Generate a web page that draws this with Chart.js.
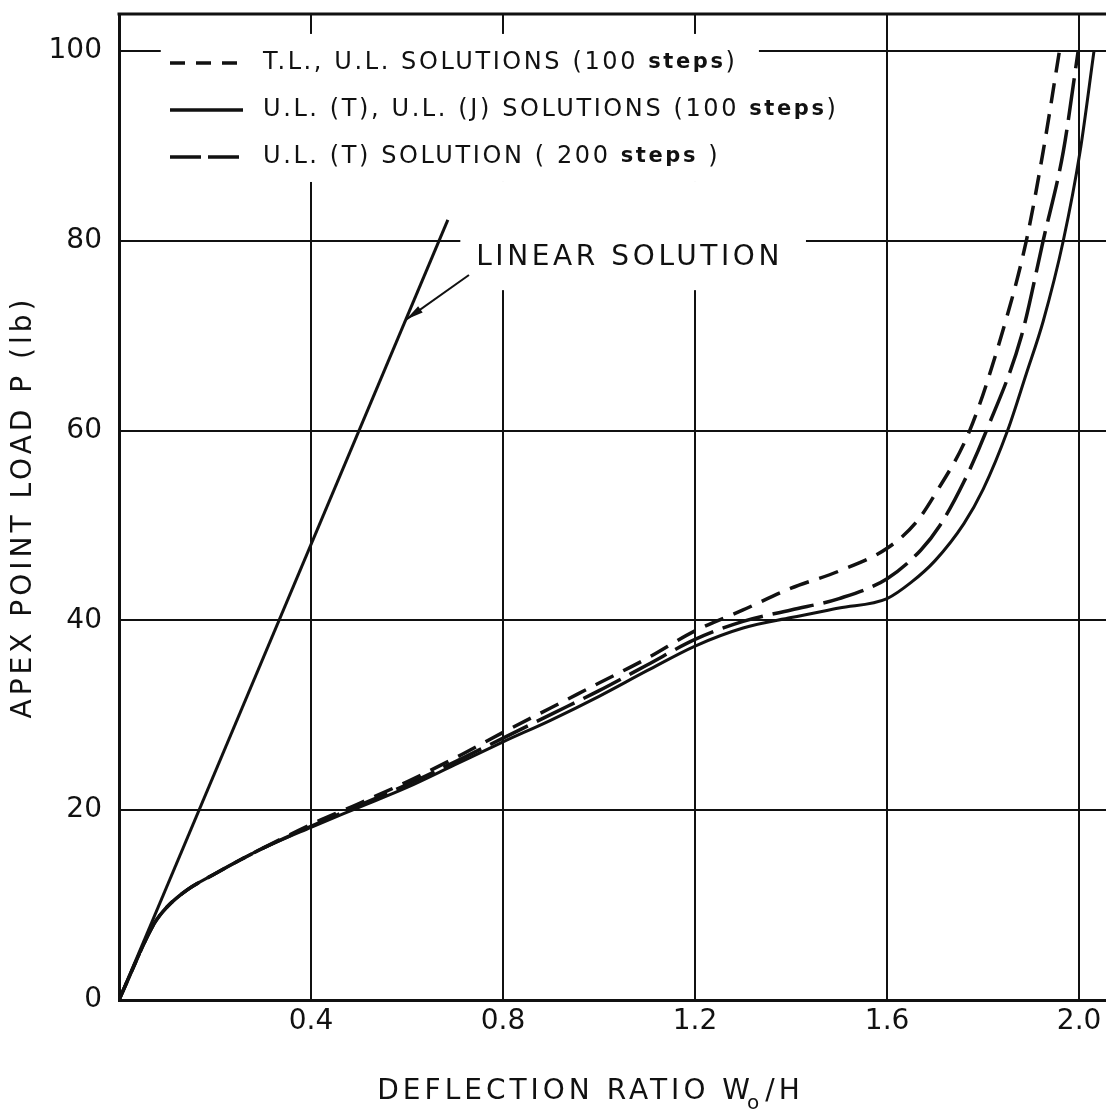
<!DOCTYPE html>
<html>
<head>
<meta charset="utf-8">
<script src="https://cdn.jsdelivr.net/npm/chart.js@4.4.1/dist/chart.umd.min.js"></script>
<style>
  html, body { margin: 0; padding: 0; background: #fff; }
</style>
</head>
<body>
<canvas id="chart" width="1106" height="1115"></canvas>
<script>
// ---------------------------------------------------------
// Data
// ---------------------------------------------------------
const xTicks = [0.4, 0.8, 1.2, 1.6, 2.0];
const xTickLabels = ['0.4', '0.8', '1.2', '1.6', '2.0'];
const yTicks = [0, 20, 40, 60, 80, 100];
const yTickLabels = ['0', '20', '40', '60', '80', '100'];

// linear solution
const linearX = [0, 0.685];
const linearP = [0, 82.2];

// T.L., U.L. solutions (100 steps) - short dashes
const tlX = [0, 0.02, 0.04, 0.06, 0.075, 0.1, 0.142, 0.2, 0.254, 0.3, 0.4, 0.5, 0.6, 0.7, 0.8, 0.9, 1.0, 1.1, 1.2, 1.3, 1.4, 1.5, 1.6, 1.66, 1.7, 1.772, 1.838, 1.89, 1.925, 1.959];
const tlP = [0, 2.3, 4.6, 6.8, 8.2, 9.8, 11.6, 13.3, 14.8, 16.0, 18.5, 20.7, 23.0, 25.5, 28.2, 30.8, 33.4, 36.0, 38.9, 41.1, 43.4, 45.2, 47.6, 50.3, 53.3, 60, 70, 80, 89.4, 100];

// U.L.(T), U.L.(J) solutions (100 steps) - solid
const ulX = [0, 0.02, 0.04, 0.06, 0.075, 0.1, 0.142, 0.2, 0.254, 0.3, 0.4, 0.5, 0.6, 0.7, 0.8, 0.9, 1.0, 1.1, 1.2, 1.3, 1.4, 1.5, 1.6, 1.65, 1.7, 1.76, 1.8, 1.851, 1.89, 1.925, 1.967, 2.002, 2.031];
const ulP = [0, 2.3, 4.6, 6.8, 8.2, 9.8, 11.6, 13.3, 14.8, 16.0, 18.2, 20.3, 22.4, 24.8, 27.2, 29.5, 32.0, 34.7, 37.3, 39.2, 40.3, 41.3, 42.3, 44.0, 46.3, 50.2, 53.8, 60, 66, 71.5, 80, 89.4, 100];

// U.L.(T) solution (200 steps) - long dashes
const ul200X = [0, 0.02, 0.04, 0.06, 0.075, 0.1, 0.142, 0.2, 0.254, 0.3, 0.4, 0.5, 0.6, 0.7, 0.8, 0.9, 1.0, 1.1, 1.2, 1.3, 1.4, 1.5, 1.6, 1.67, 1.71, 1.76, 1.807, 1.88, 1.925, 1.967, 1.998];
const ul200P = [0, 2.3, 4.6, 6.8, 8.2, 9.8, 11.6, 13.3, 14.8, 16.0, 18.3, 20.5, 22.7, 25.1, 27.6, 30.1, 32.6, 35.3, 38.0, 39.9, 41.1, 42.3, 44.4, 47.4, 50.0, 54.6, 60, 70, 80, 89.4, 100];

const seriesLabels = [
  'T.L., U.L. SOLUTIONS (100 steps)',
  'U.L. (T), U.L. (J) SOLUTIONS (100 steps)',
  'U.L. (T) SOLUTION ( 200 steps )'
];
const linearLabel = 'LINEAR SOLUTION';
const xTitle = ['DEFLECTION RATIO W', 'o', '/H'];
const yTitle = 'APEX POINT LOAD P (lb)';

// ---------------------------------------------------------
// Style
// ---------------------------------------------------------
const ink = '#111';
const face = '"DejaVu Sans", sans-serif';
const legendDash = [[15, 11], [], [31, 7]];

// white patches behind the legend and the label (data units)
const masks = [
  { x0: 0.087, x1: 1.333, y0: 86.2, y1: 101.8 },
  { x0: 0.711, x1: 1.431, y0: 74.8, y1: 86.2 }
];

const toPts = (xs, ys) => xs.map((x, i) => ({ x, y: ys[i] }));

// no extra room for half-labels at the scale ends
const noEndPadding = s => { s.paddingTop = 0; s.paddingBottom = 0; s.paddingLeft = 0; s.paddingRight = 0; };

// draws text with the "steps" word bold & smaller
function drawRich(ctx, text, x, y) {
  text.split(/(steps)/).forEach(part => {
    if (!part) return;
    ctx.font = part === 'steps' ? `bold 21px ${face}` : `24px ${face}`;
    ctx.fillText(part, x, y);
    x += ctx.measureText(part).width;
  });
  return x;
}

const paperPlugin = {
  id: 'paper',
  beforeDatasetsDraw(chart) {
    const { ctx, chartArea: a, scales: { x, y } } = chart;
    ctx.save();
    // top frame line
    ctx.strokeStyle = ink;
    ctx.lineWidth = 3;
    ctx.beginPath();
    ctx.moveTo(a.left - 1.5, a.top);
    ctx.lineTo(a.right, a.top);
    ctx.stroke();
    // blank out grid under the texts
    ctx.fillStyle = '#fff';
    masks.forEach(m => {
      const px0 = x.getPixelForValue(m.x0), px1 = x.getPixelForValue(m.x1);
      const py0 = y.getPixelForValue(m.y1), py1 = y.getPixelForValue(m.y0);
      ctx.fillRect(px0, py0, px1 - px0, py1 - py0);
    });
    ctx.restore();
  },
  afterDatasetsDraw(chart) {
    const { ctx, chartArea: a, scales: { x, y } } = chart;
    ctx.save();
    ctx.fillStyle = ink;
    ctx.strokeStyle = ink;
    ctx.textBaseline = 'middle';
    ctx.letterSpacing = '2.6px';

    // legend
    const lx = a.left + 51, ly = a.top + 49, row = 47;
    seriesLabels.forEach((lab, i) => {
      const yy = ly + i * row;
      ctx.lineWidth = 3.5;
      ctx.setLineDash(legendDash[i]);
      ctx.beginPath();
      ctx.moveTo(lx, yy);
      ctx.lineTo(lx + 73, yy);
      ctx.stroke();
      ctx.setLineDash([]);
      drawRich(ctx, lab, lx + 93, yy);
    });

    // "LINEAR SOLUTION" label with arrow
    ctx.letterSpacing = '3.6px';
    ctx.font = `28px ${face}`;
    ctx.fillText(linearLabel, x.getPixelForValue(0.744), y.getPixelForValue(78.2));

    const tx = x.getPixelForValue(0.598), ty = y.getPixelForValue(71.7);
    const sx = x.getPixelForValue(0.729), sy = y.getPixelForValue(76.4);
    ctx.lineWidth = 2;
    ctx.beginPath();
    ctx.moveTo(sx, sy);
    ctx.lineTo(tx, ty);
    ctx.stroke();
    const ang = Math.atan2(ty - sy, tx - sx);
    ctx.beginPath();
    ctx.moveTo(tx, ty);
    ctx.lineTo(tx - 18 * Math.cos(ang - 0.22), ty - 18 * Math.sin(ang - 0.22));
    ctx.lineTo(tx - 18 * Math.cos(ang + 0.22), ty - 18 * Math.sin(ang + 0.22));
    ctx.closePath();
    ctx.fill();
    ctx.restore();
  },
  afterDraw(chart) {
    const { ctx, chartArea: a } = chart;
    ctx.save();
    ctx.fillStyle = ink;
    ctx.textBaseline = 'middle';
    ctx.letterSpacing = '4px';

    // x title with subscript
    ctx.font = `28px ${face}`;
    const w0 = ctx.measureText(xTitle[0]).width;
    ctx.font = `20px ${face}`;
    const w1 = ctx.measureText(xTitle[1]).width;
    ctx.font = `28px ${face}`;
    const w2 = ctx.measureText(xTitle[2]).width;
    let cx = 593 - (w0 + w1 + w2) / 2;
    const cy = a.bottom + 92;
    ctx.fillText(xTitle[0], cx, cy);
    cx += w0 - 7;
    ctx.font = `20px ${face}`;
    ctx.fillText(xTitle[1], cx, cy + 12);
    cx += w1 + 2;
    ctx.font = `28px ${face}`;
    ctx.fillText(xTitle[2], cx, cy);

    // y title
    ctx.translate(24, (a.top + a.bottom) / 2);
    ctx.rotate(-Math.PI / 2);
    ctx.textAlign = 'center';
    ctx.fillText(yTitle, 0, 0);
    ctx.restore();
  }
};

const lineStyle = { showLine: true, pointRadius: 0, borderColor: ink, fill: false, cubicInterpolationMode: 'monotone' };

new Chart(document.getElementById('chart'), {
  type: 'scatter',
  data: {
    datasets: [
      { ...lineStyle, label: linearLabel, data: toPts(linearX, linearP), borderWidth: 3, cubicInterpolationMode: 'default' },
      { ...lineStyle, label: seriesLabels[0], data: toPts(tlX, tlP), borderWidth: 3.5, borderDash: [20, 11] },
      { ...lineStyle, label: seriesLabels[1], data: toPts(ulX, ulP), borderWidth: 3 },
      { ...lineStyle, label: seriesLabels[2], data: toPts(ul200X, ul200P), borderWidth: 3.5, borderDash: [42, 10] }
    ]
  },
  options: {
    responsive: false,
    animation: false,
    layout: { padding: { top: 14, right: 0, left: 0, bottom: 0 } },
    plugins: { legend: { display: false }, tooltip: { enabled: false } },
    scales: {
      x: {
        type: 'linear',
        min: 0,
        max: 2.056,
        afterBuildTicks: s => { s.ticks = xTicks.map(v => ({ value: v })); },
        afterFit: s => { s.height = 115; noEndPadding(s); },
        ticks: { callback: (v, i) => xTickLabels[i], color: ink, font: { family: face, size: 28 }, padding: 5, maxRotation: 0, autoSkip: false },
        grid: { color: ink, lineWidth: 2, drawTicks: false },
        border: { color: ink, width: 3 }
      },
      y: {
        type: 'linear',
        min: 0,
        max: 103.9,
        afterBuildTicks: s => { s.ticks = yTicks.map(v => ({ value: v })); },
        afterFit: s => { s.width = 119; noEndPadding(s); },
        ticks: { callback: (v, i) => yTickLabels[i], color: ink, font: { family: face, size: 28 }, padding: 17, autoSkip: false },
        grid: { color: ink, lineWidth: 2, drawTicks: false },
        border: { color: ink, width: 3 }
      }
    }
  },
  plugins: [paperPlugin]
});
</script>
</body>
</html>
